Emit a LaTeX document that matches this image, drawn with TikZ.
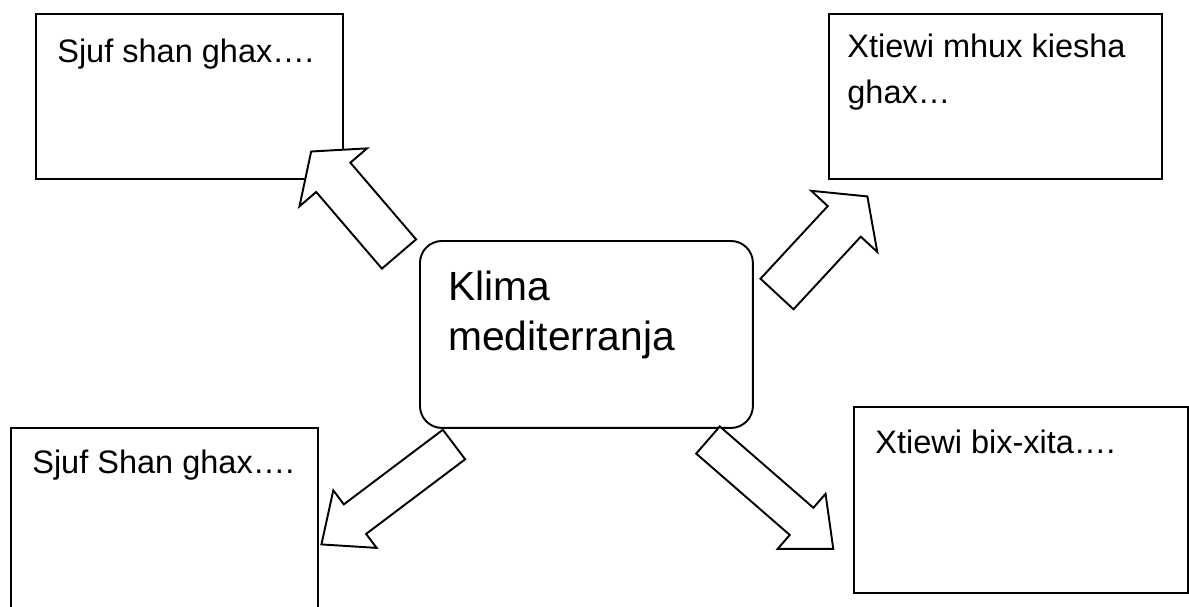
\documentclass[tikz,border=0pt]{standalone}
\usepackage{fontspec}
\setmainfont{Liberation Sans}
\usetikzlibrary{calc}

\tikzset{
  box/.style={draw, line width=1.1pt, inner sep=0pt, anchor=north west},
  txt/.style={anchor=base west, inner sep=0pt, align=left, font=\fontsize{18.5}{26}\selectfont},
  bigtxt/.style={txt, font=\fontsize{23.2}{28.4}\selectfont},
  arrowline/.style={draw, fill=white, line width=1.1pt}
}

% block arrow: base, angle, length, shaft width, head width, head length
\newcommand{\blockarrow}[6]{%
  \draw[arrowline, shift={(#1)}, rotate=#2]
    (0,{-#4/2}) -- ({#3-#6},{-#4/2}) -- ({#3-#6},{-#5/2}) -- (#3,0)
    -- ({#3-#6},{#5/2}) -- ({#3-#6},{#4/2}) -- (0,{#4/2}) -- cycle;}

\begin{document}
\begin{tikzpicture}[x=0.02cm, y=-0.02cm]
    \useasboundingbox (0,0) rectangle (1189,606);

    % boxes
    \node [box, minimum width=6.14cm, minimum height=3.3cm] (sjuf) at (35,13) {};
    \node [box, minimum width=6.66cm, minimum height=3.3cm] (mhux) at (828,13) {};
    \node [box, rounded corners=0.44cm, minimum width=6.66cm, minimum height=3.74cm] (klima) at (419,240) {};
    \node [box, minimum width=6.14cm, minimum height=3.96cm] (shan) at (10,427) {};
    \node [box, minimum width=6.68cm, minimum height=3.72cm] (xita) at (853,406) {};

    % texts (base = last line)
    \node [txt] (sjuftxt) at (57,62) {Sjuf shan ghax….};
    \node [txt] (mhuxtxt) at (847,103) {Xtiewi mhux kiesha\\ghax…};
    \node [bigtxt] (klimatxt) at (448,350) {Klima\\mediterranja};
    \node [txt] (shantxt) at (32,473) {Sjuf Shan ghax….};
    \node [txt] (xitatxt) at (875,453) {Xtiewi bix-xita….};

    % arrows
    \blockarrow{399,254}{130.6}{135}{45}{89}{34}
    \blockarrow{777,294}{47.2}{133}{45}{90}{34}
    \blockarrow{454,444.5}{217}{166}{37}{72}{42}
    \blockarrow{708,440}{-41}{166}{36}{73}{42}
\end{tikzpicture}
\end{document}
